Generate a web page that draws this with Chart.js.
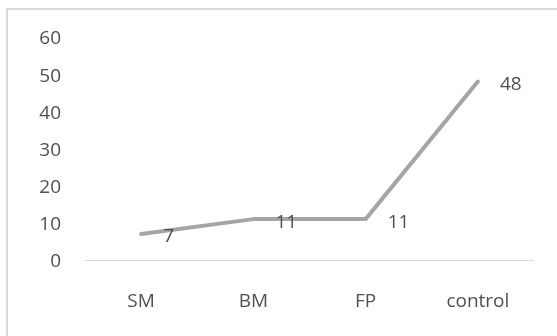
<!DOCTYPE html>
<html>
<head>
<meta charset="utf-8">
<script src="https://cdn.jsdelivr.net/npm/chart.js@4/dist/chart.umd.min.js"></script>
<style>
  html, body { margin: 0; padding: 0; background: #fff; }
  #wrap { position: relative; width: 557px; height: 336px; overflow: hidden; }
  #frame { position: absolute; left: 6px; top: 8px; width: 600px; height: 400px;
           border-left: 2px solid #d9d9d9; border-top: 2px solid #d9d9d9; }
  canvas { position: absolute; left: 0; top: 0; }
</style>
</head>
<body>
<div id="wrap">
  <div id="frame"></div>
  <canvas id="c" width="557" height="336"></canvas>
</div>
<script>
const categories = ["SM", "BM", "FP", "control"];
const values = [7, 11, 11, 48];
const yTicks = [0, 10, 20, 30, 40, 50, 60];

const FONT = "'Open Sans', sans-serif";
const TEXT = "#505050";

const labelPlugin = {
  id: "pointLabels",
  afterDatasetsDraw(chart) {
    const ctx = chart.ctx;
    const meta = chart.getDatasetMeta(0);
    ctx.save();
    ctx.font = "19px " + FONT;
    ctx.fillStyle = TEXT;
    ctx.textAlign = "left";
    ctx.textBaseline = "middle";
    meta.data.forEach((pt, i) => {
      ctx.fillText(String(values[i]), pt.x + 22, pt.y + 3);
    });
    ctx.restore();
  }
};

new Chart(document.getElementById("c"), {
  type: "line",
  data: {
    labels: categories,
    datasets: [{
      data: values,
      borderColor: "#a5a5a5",
      borderWidth: 4,
      borderCapStyle: "round",
      borderJoinStyle: "round",
      pointRadius: 0,
      tension: 0,
      fill: false
    }]
  },
  options: {
    responsive: false,
    animation: false,
    layout: { padding: { top: 37, right: 23, left: 0, bottom: 0 } },
    plugins: { legend: { display: false }, tooltip: { enabled: false } },
    scales: {
      x: {
        offset: true,
        grid: { display: false, drawTicks: false },
        border: { display: false },
        ticks: { color: TEXT, font: { family: FONT, size: 19 }, padding: 30, maxRotation: 0 },
        afterFit(s) { s.height = 76; }
      },
      y: {
        min: 0, max: 60,
        afterBuildTicks(s) { s.ticks = yTicks.map(v => ({ value: v })); },
        grid: {
          drawTicks: false,
          color: (c) => (c.tick && c.tick.value === 0 ? "#d9d9d9" : "rgba(0,0,0,0)"),
          lineWidth: 1
        },
        border: { display: false },
        ticks: { color: TEXT, font: { family: FONT, size: 19 }, padding: 24, labelOffset: 2 },
        afterFit(s) { s.width = 85; }
      }
    }
  },
  plugins: [labelPlugin]
});
</script>
</body>
</html>
